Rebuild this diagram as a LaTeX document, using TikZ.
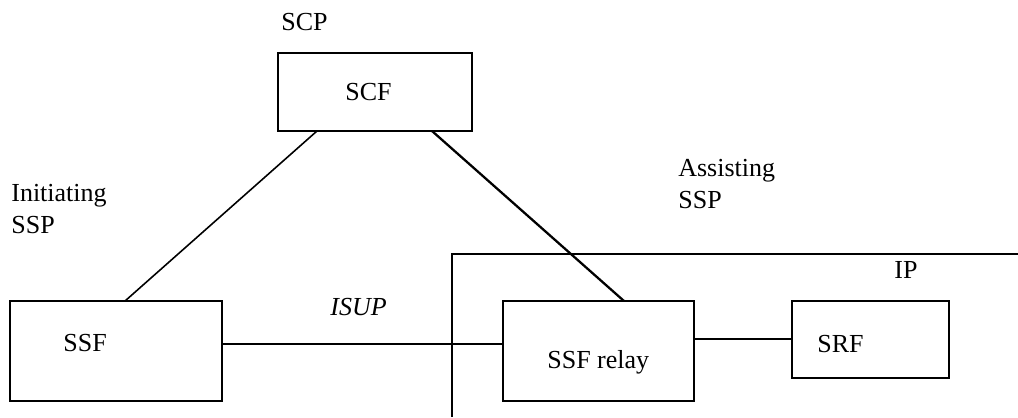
\documentclass[tikz,border=0pt]{standalone}
\usepackage{fontspec}
\setmainfont{Liberation Serif}
\tikzset{
	box/.style={draw,line width=1.2pt,inner sep=0pt,outer sep=0pt},
	thinbox/.style={draw,line width=0.6pt,inner sep=0pt,outer sep=0pt},
	lbl/.style={anchor=base west,inner sep=0pt,font=\fontsize{14.8}{18.2}\selectfont,align=left},
	link/.style={line width=0.9pt},
	heavy/.style={line width=1.3pt},
	fine/.style={line width=0.6pt}
}
\begin{document}
\begin{tikzpicture}[x=0.02cm,y=-0.02cm]

	\useasboundingbox (0,0) rectangle (1018,417);

	% Boxes
	\node[box,minimum width=3.88cm,minimum height=1.56cm] (scf) at (375,92) {};
	\node[box,minimum width=4.24cm,minimum height=2cm] (ssf) at (116,351) {};
	\node[box,minimum width=3.82cm,minimum height=2cm] (relay) at (598.5,351) {};
	\node[thinbox,minimum width=3.14cm,minimum height=1.54cm] (srf) at (870.5,339.5) {};

	% Box texts
	\node[lbl] (scftext) at (345,100) {SCF};
	\node[lbl] (ssftext) at (63,351) {SSF};
	\node[lbl] (relaytext) at (547,368) {SSF relay};
	\node[lbl] (srftext) at (817,352) {SRF};

	% Node names
	\node[lbl] (scp) at (281,30) {SCP};
	\node[lbl] (initssp) at (11,233) {Initiating\\SSP};
	\node[lbl] (assistssp) at (678,208) {Assisting\\SSP};
	\node[lbl] (ip) at (894,278) {IP};

	% IP frame
	\coordinate (ipbottom) at (452,417);
	\coordinate (ipcorner) at (452,254);
	\coordinate (ipright) at (1018,254);
	\draw[fine] (ipbottom) -- (ipcorner) -- (ipright);

	% Links to SCF
	\draw[link] (scf.south -| 317,0) -- (ssf.north -| 125,0);
	\draw[heavy] (scf.south -| 432,0) -- (relay.north -| 624,0);

	% ISUP
	\coordinate (isupmid) at (387,344);
	\draw[fine] (ssf.east |- isupmid) -- (isupmid);
	\draw[heavy] (isupmid) -- (relay.west |- isupmid);
	\node[lbl,font=\fontsize{14.8}{18.2}\selectfont\itshape] (isup) at (330,315) {ISUP};

	% Relay to SRF
	\draw[heavy] (relay.east |- 0,339) -- (srf.west |- 0,339);

\end{tikzpicture}
\end{document}
